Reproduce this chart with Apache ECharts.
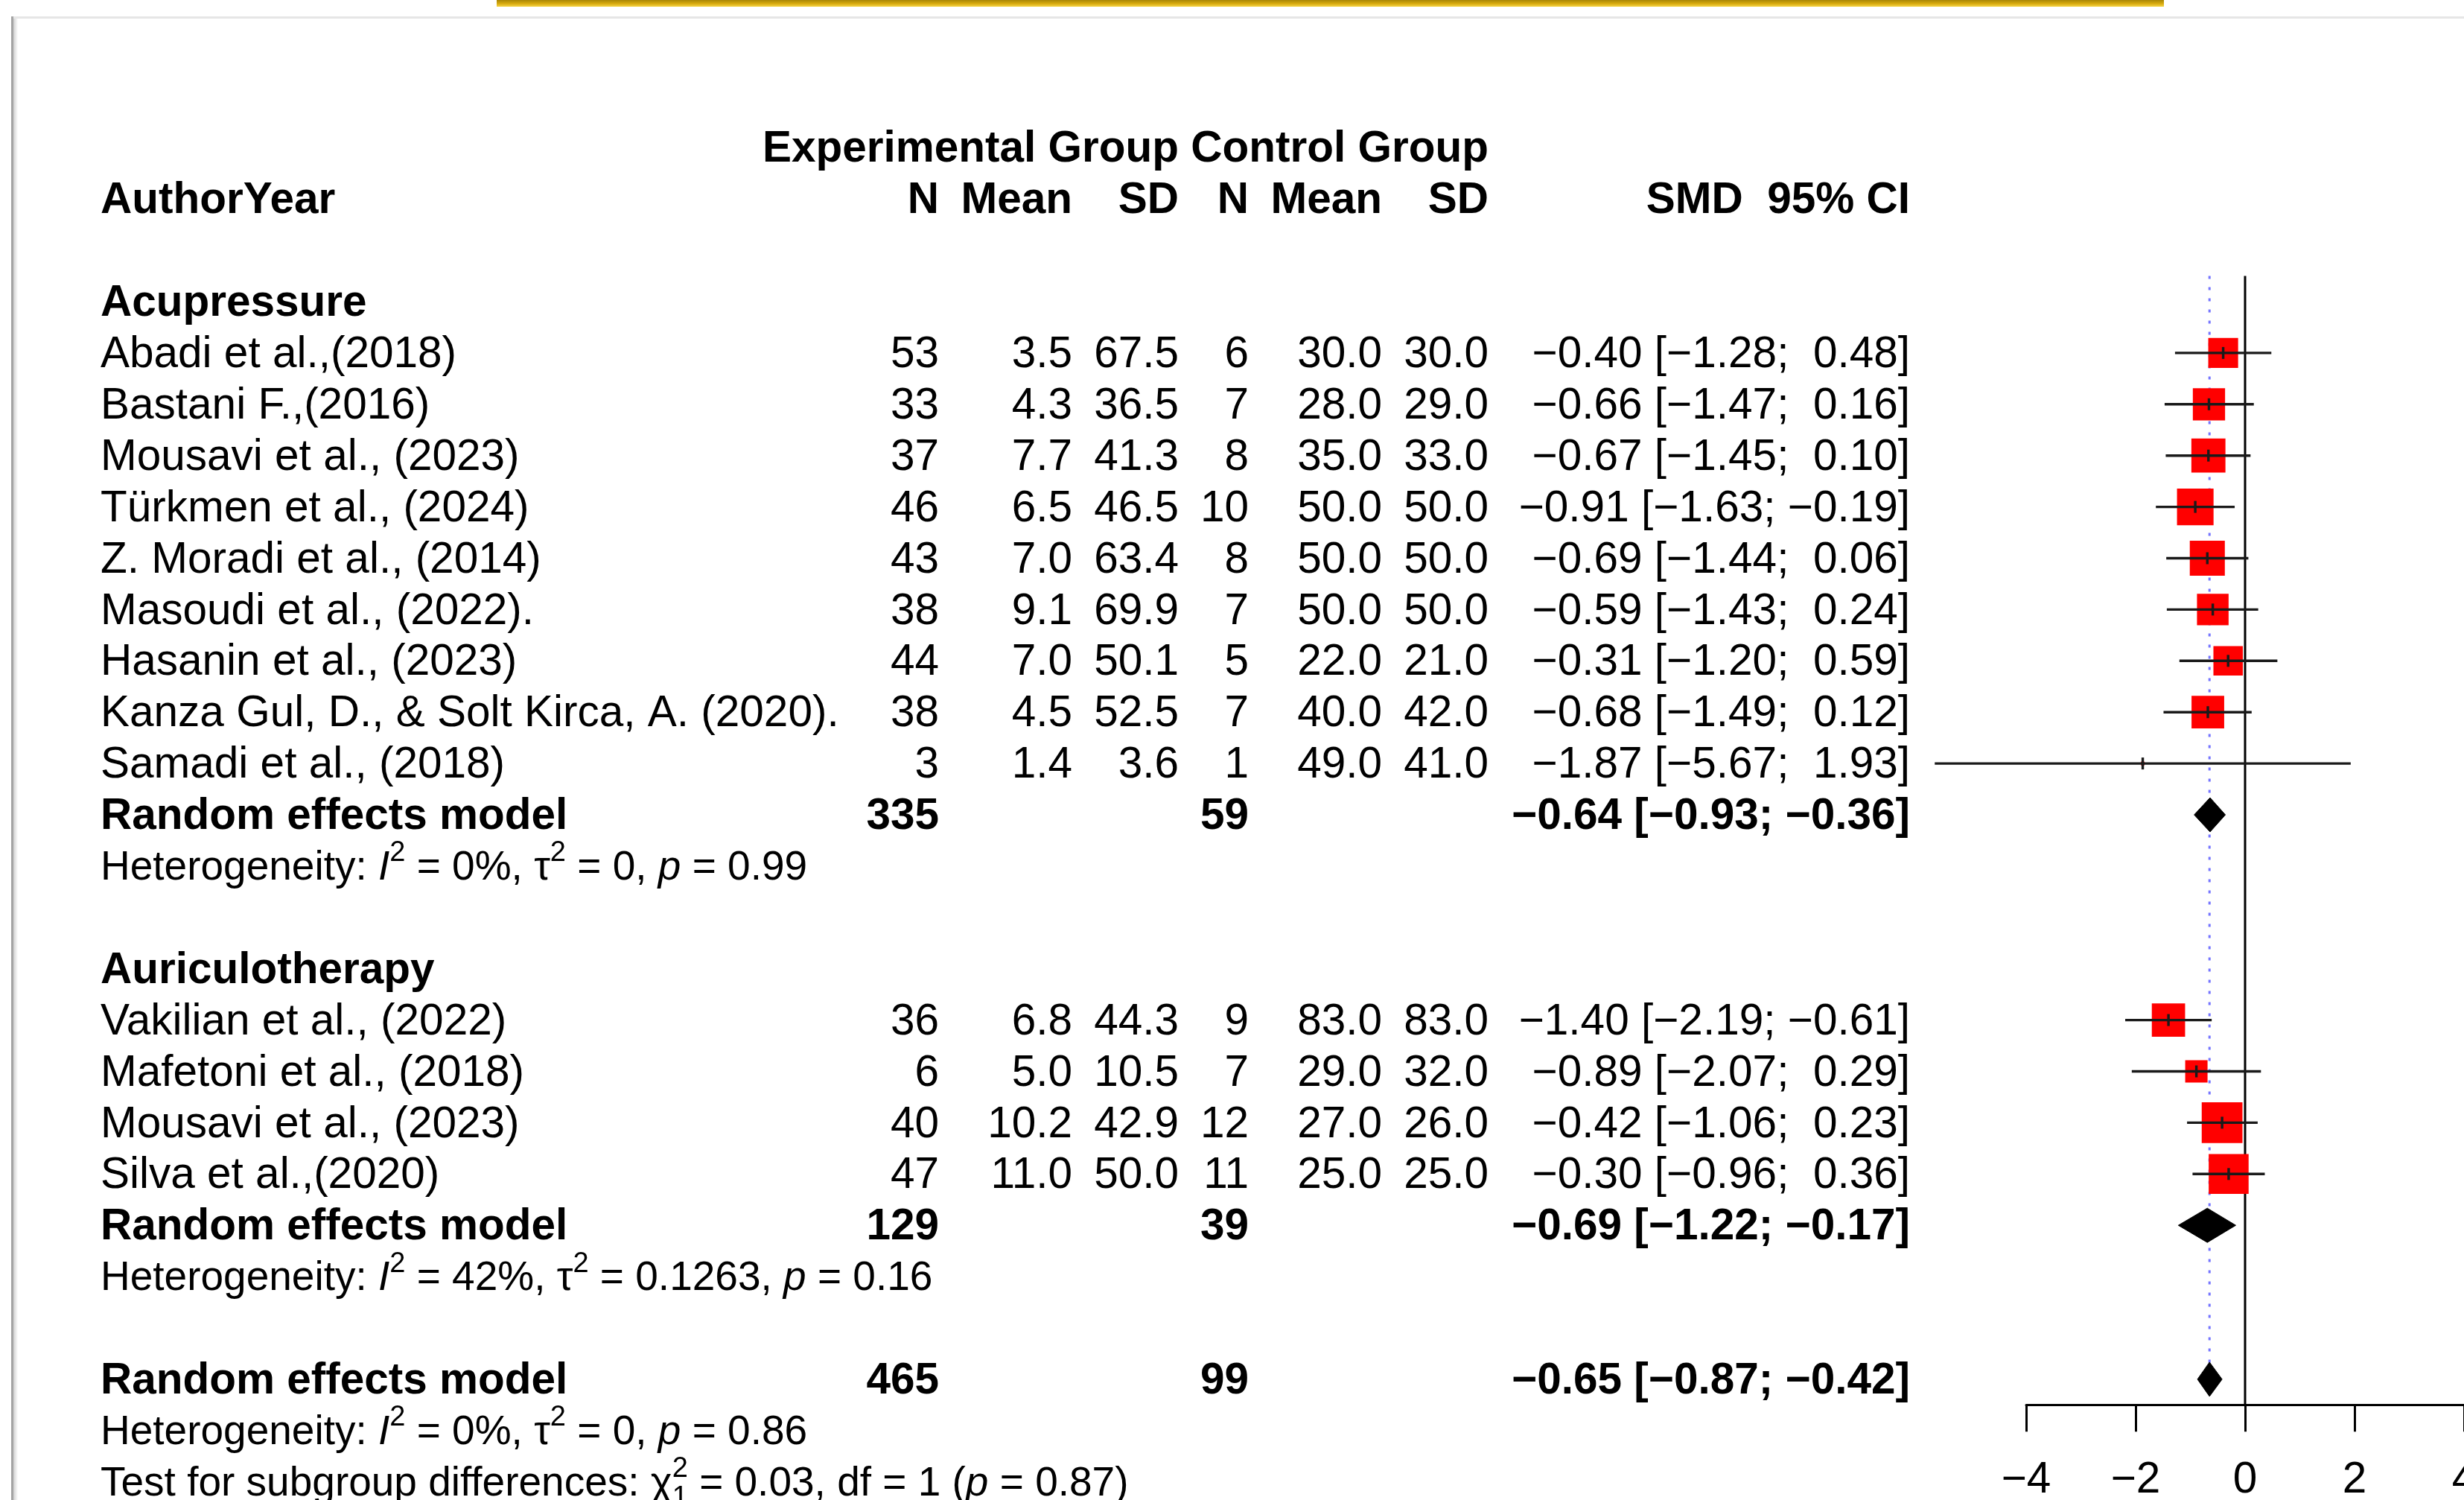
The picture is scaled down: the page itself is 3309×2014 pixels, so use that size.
<!DOCTYPE html>
<html><head><meta charset="utf-8">
<script src="https://cdn.jsdelivr.net/npm/echarts/dist/echarts.min.js"></script>
<style>html,body{margin:0;padding:0;background:#fff}#c{width:3309px;height:2014px}</style>
</head><body><div id="c"></div>
<script>
// ---------------- DATA ----------------
const groups = ["Acupressure", "Auriculotherapy"];
const studyNames = ["Abadi et al.,(2018)", "Bastani F.,(2016)", "Mousavi et al., (2023)", "Türkmen et al., (2024)",
  "Z. Moradi et al., (2014)", "Masoudi et al., (2022).", "Hasanin et al., (2023)",
  "Kanza Gul, D., & Solt Kirca, A. (2020).", "Samadi et al., (2018)",
  "Vakilian et al., (2022)", "Mafetoni et al., (2018)", "Mousavi et al., (2023)", "Silva et al.,(2020)"];
const studyGroup = [0,0,0,0,0,0,0,0,0,1,1,1,1];
const expN    = [53,33,37,46,43,38,44,38,3,36,6,40,47];
const expMean = [3.5,4.3,7.7,6.5,7.0,9.1,7.0,4.5,1.4,6.8,5.0,10.2,11.0];
const expSD   = [67.5,36.5,41.3,46.5,63.4,69.9,50.1,52.5,3.6,44.3,10.5,42.9,50.0];
const ctrlN    = [6,7,8,10,8,7,5,7,1,9,7,12,11];
const ctrlMean = [30.0,28.0,35.0,50.0,50.0,50.0,22.0,40.0,49.0,83.0,29.0,27.0,25.0];
const ctrlSD   = [30.0,29.0,33.0,50.0,50.0,50.0,21.0,42.0,41.0,83.0,32.0,26.0,25.0];
const smd    = [-0.40,-0.66,-0.67,-0.91,-0.69,-0.59,-0.31,-0.68,-1.87,-1.40,-0.89,-0.42,-0.30];
const ciLow  = [-1.28,-1.47,-1.45,-1.63,-1.44,-1.43,-1.20,-1.49,-5.67,-2.19,-2.07,-1.06,-0.96];
const ciHigh = [0.48,0.16,0.10,-0.19,0.06,0.24,0.59,0.12,1.93,-0.61,0.29,0.23,0.36];
const weights = [6.6,7.7,8.6,9.9,9.1,7.4,6.4,7.9,0.1,8.2,3.7,12.3,11.8]; // % (estimated from square sizes)

// summaries: [Acupressure, Auriculotherapy, Overall]
const sumLabel = ["Random effects model","Random effects model","Random effects model"];
const sumExpN  = [335,129,465];
const sumCtrlN = [59,39,99];
const sumSMD   = [-0.64,-0.69,-0.65];
const sumLow   = [-0.93,-1.22,-0.87];
const sumHigh  = [-0.36,-0.17,-0.42];
const hetI2    = ["0%","42%","0%"];
const hetTau2  = ["0","0.1263","0"];
const hetP     = ["0.99","0.16","0.86"];
const subgroupTest = {chi2:"0.03", df:"1", p:"0.87"};
const xTicks = [-4,-2,0,2,4];

// ---------------- LAYOUT / STYLE ----------------
const FAM = '"Liberation Sans", Arial, Helvetica, sans-serif';
const FS = 58.5, HFS = 55, SUPFS = 38, SUP_DY = -20, SUB_DY = 19, TEXT_DY = 3;
const ROW0_Y = 405, ROW_H = 68.9;
const COL = {label:135, eN:1261, eMean:1440, eSD:1583, cN:1677, cMean:1856, cSD:1999, smd:2565};
const SQ_K = 15.6, DIAMOND_H = 23, TICK_H = 8, LINE_W = 3.4;

// row assignment
let r = 0; const studyRow = [], groupRow = [], sumRow = [], hetRow = [];
groups.forEach((g, gi) => {
  groupRow.push(r++);
  studyGroup.forEach((sg, i) => { if (sg === gi) studyRow[i] = r++; });
  sumRow.push(r++); hetRow.push(r++); r++;
});
sumRow.push(r++); hetRow.push(r++); const testRow = r++;
const Y_MIN = -0.5, Y_MAX = sumRow[2] + 0.5;

const minus = '\u2212';
const f1 = v => v.toFixed(1);
const f2 = v => (v < 0 ? minus : '') + Math.abs(v).toFixed(2);
const f2p = v => (v < 0 ? minus : ' ') + Math.abs(v).toFixed(2);
const ciStr = (e, l, h) => f2(e) + ' [' + f2p(l) + '; ' + f2p(h) + ']';

// ---------------- TEXT CELLS ----------------
const cells = [];
const cell = (x, row, align, tokens) => cells.push({x, row, align, tokens});
const T = (t, k) => ({t, k: k || 'n'});

cell(COL.eSD, -3, 'right', [T('Experimental Group','b')]);
cell(COL.cSD, -3, 'right', [T('Control Group','b')]);
cell(COL.label, -2, 'left', [T('AuthorYear','b')]);
[['N',COL.eN],['Mean',COL.eMean],['SD',COL.eSD],['N',COL.cN],['Mean',COL.cMean],['SD',COL.cSD],['SMD  95% CI',COL.smd]]
  .forEach(([t,x]) => cell(x, -2, 'right', [T(t,'b')]));

groups.forEach((g, gi) => cell(COL.label, groupRow[gi], 'left', [T(g,'b')]));
studyNames.forEach((nm, i) => {
  const rr = studyRow[i];
  cell(COL.label, rr, 'left', [T(nm)]);
  cell(COL.eN, rr, 'right', [T(String(expN[i]))]);
  cell(COL.eMean, rr, 'right', [T(f1(expMean[i]))]);
  cell(COL.eSD, rr, 'right', [T(f1(expSD[i]))]);
  cell(COL.cN, rr, 'right', [T(String(ctrlN[i]))]);
  cell(COL.cMean, rr, 'right', [T(f1(ctrlMean[i]))]);
  cell(COL.cSD, rr, 'right', [T(f1(ctrlSD[i]))]);
  cell(COL.smd, rr, 'right', [T(ciStr(smd[i], ciLow[i], ciHigh[i]))]);
});
sumLabel.forEach((lb, k) => {
  const rr = sumRow[k];
  cell(COL.label, rr, 'left', [T(lb,'b')]);
  cell(COL.eN, rr, 'right', [T(String(sumExpN[k]),'b')]);
  cell(COL.cN, rr, 'right', [T(String(sumCtrlN[k]),'b')]);
  cell(COL.smd, rr, 'right', [T(ciStr(sumSMD[k], sumLow[k], sumHigh[k]),'b')]);
  cell(COL.label, hetRow[k], 'left', [T('Heterogeneity: ','h'), T('I','hi'), T('2','sup'), T(' = ' + hetI2[k] + ', \u03c4','h'),
    T('2','sup'), T(' = ' + hetTau2[k] + ', ','h'), T('p','hi'), T(' = ' + hetP[k],'h')]);
});
cell(COL.label, testRow, 'left', [T('Test for subgroup differences: \u03c7','h'), {k:'stack', sup:'2', sub:'1'},
  T(' = ' + subgroupTest.chi2 + ', df = ' + subgroupTest.df + ' (','h'), T('p','hi'), T(' = ' + subgroupTest.p + ')','h')]);

// ---------------- RENDER HELPERS ----------------
const mctx = document.createElement('canvas').getContext('2d');
function tw(text, font) { mctx.font = font; return mctx.measureText(text).width; }
function fontOf(k) {
  if (k === 'b') return 'bold ' + FS + 'px ' + FAM;
  if (k === 'i') return 'italic ' + FS + 'px ' + FAM;
  if (k === 'h') return HFS + 'px ' + FAM;
  if (k === 'hi') return 'italic ' + HFS + 'px ' + FAM;
  if (k === 'sup' || k === 'sub' || k === 'stack') return SUPFS + 'px ' + FAM;
  return FS + 'px ' + FAM;
}
function renderCell(c, px, py) {
  const parts = []; let w = 0;
  c.tokens.forEach(tok => {
    const f = fontOf(tok.k);
    if (tok.k === 'stack') {
      parts.push({text: tok.sup, font: f, dx: w, dy: SUP_DY});
      parts.push({text: tok.sub, font: f, dx: w, dy: SUB_DY});
      w += Math.max(tw(tok.sup, f), tw(tok.sub, f));
    } else {
      parts.push({text: tok.t, font: f, dx: w, dy: tok.k === 'sup' ? SUP_DY : 0});
      w += tw(tok.t, f);
    }
  });
  const x0 = c.align === 'right' ? px - w : px;
  return {type: 'group', children: parts.map(p => ({
    type: 'text', x: x0 + p.dx, y: py + p.dy + TEXT_DY,
    style: {text: p.text, font: p.font, fill: '#000', align: 'left', verticalAlign: 'middle',
            textAlign: 'left', textVerticalAlign: 'middle'}
  }))};
}

// ---------------- CHART ----------------
const chart = echarts.init(document.getElementById('c'), null, {renderer: 'canvas', width: 3309, height: 2014});
const GRID_TOP = ROW0_Y + Y_MIN * ROW_H, GRID_H = (Y_MAX - Y_MIN) * ROW_H;

const studyData = smd.map((v, i) => [v, studyRow[i], weights[i]]);
const ciData = smd.map((v, i) => [ciLow[i], ciHigh[i], v, studyRow[i]]);
const diamondData = sumSMD.map((v, k) => [sumLow[k], sumHigh[k], v, sumRow[k]]);
const refData = [[0, 0], [sumSMD[2], 1]];

const option = {
  animation: false,
  backgroundColor: '#fff',
  graphic: [
    {type: 'rect', shape: {x: 667, y: 0, width: 2239, height: 9}, style: {fill: {type: 'linear', x: 0, y: 0, x2: 0, y2: 1,
      colorStops: [{offset: 0, color: '#a88606'}, {offset: 0.5, color: '#d4a70c'}, {offset: 1, color: '#f6d444'}]}}},
    {type: 'rect', shape: {x: 15, y: 22, width: 3294, height: 3}, style: {fill: '#e6e6e6'}},
    {type: 'rect', shape: {x: 15, y: 22, width: 3, height: 1992}, style: {fill: '#a4a4a4'}},
    {type: 'rect', shape: {x: 18, y: 25, width: 6, height: 1989}, style: {fill: {type: 'linear', x: 0, y: 0, x2: 1, y2: 0,
      colorStops: [{offset: 0, color: '#cfcfcf'}, {offset: 1, color: '#ffffff'}]}}}
  ],
  grid: [
    {left: 2721, width: 588, top: GRID_TOP, height: GRID_H, outerBoundsMode: 'none', containLabel: false},
    {left: 0, width: 3309, top: GRID_TOP, height: GRID_H, outerBoundsMode: 'none', containLabel: false}
  ],
  xAxis: [
    {gridIndex: 0, type: 'value', min: xTicks[0], max: xTicks[xTicks.length - 1], interval: xTicks[1] - xTicks[0],
     position: 'bottom',
     axisLine: {show: true, onZero: false, lineStyle: {color: '#000', width: 3}},
     axisTick: {show: true, length: 36, lineStyle: {color: '#000', width: 3}},
     axisLabel: {show: true, fontSize: FS, fontFamily: FAM, color: '#000', margin: 72, showMinLabel: true, showMaxLabel: true,
       formatter: v => (v < 0 ? minus + Math.abs(v) : String(v))},
     splitLine: {show: false}},
    {gridIndex: 1, type: 'value', min: 0, max: 3309, show: false}
  ],
  yAxis: [
    {gridIndex: 0, type: 'value', min: Y_MIN, max: Y_MAX, inverse: true, show: false},
    {gridIndex: 1, type: 'value', min: Y_MIN, max: Y_MAX, inverse: true, show: false}
  ],
  series: [
    { // reference lines: null effect (solid) and overall estimate (dotted blue)
      type: 'custom', xAxisIndex: 0, yAxisIndex: 0, z: 1, silent: true, clip: false, data: refData,
      renderItem: (params, api) => {
        const x = api.value(0), kind = api.value(1);
        const p1 = api.coord([x, Y_MIN]), p2 = api.coord([x, Y_MAX]);
        return {type: 'line', shape: {x1: p1[0], y1: p1[1], x2: p2[0], y2: kind === 0 ? p2[1] : p2[1] - 14},
          style: kind === 0 ? {stroke: '#000', lineWidth: 3}
                            : {stroke: '#7474ff', lineWidth: 3, lineDash: [4, 11]}};
      }
    },
    {
      type: 'scatter', xAxisIndex: 0, yAxisIndex: 0, z: 2, silent: true, data: studyData,
      symbol: 'rect', symbolSize: v => SQ_K * Math.sqrt(v[2]),
      itemStyle: {color: '#ff0000', opacity: 1}
    },
    {
      type: 'custom', xAxisIndex: 0, yAxisIndex: 0, z: 3, silent: true, clip: false, data: ciData,
      renderItem: (params, api) => {
        const a = api.coord([api.value(0), api.value(3)]);
        const b = api.coord([api.value(1), api.value(3)]);
        const m = api.coord([api.value(2), api.value(3)]);
        return {type: 'group', children: [
          {type: 'line', shape: {x1: a[0], y1: a[1], x2: b[0], y2: b[1]}, style: {stroke: '#1a1a1a', lineWidth: LINE_W}},
          {type: 'line', shape: {x1: m[0], y1: m[1] - TICK_H, x2: m[0], y2: m[1] + TICK_H}, style: {stroke: '#1a1a1a', lineWidth: LINE_W}}
        ]};
      }
    },
    {
      type: 'custom', xAxisIndex: 0, yAxisIndex: 0, z: 3, silent: true, clip: false, data: diamondData,
      renderItem: (params, api) => {
        const l = api.coord([api.value(0), api.value(3)]);
        const h = api.coord([api.value(1), api.value(3)]);
        const e = api.coord([api.value(2), api.value(3)]);
        return {type: 'polygon', shape: {points: [[l[0], l[1]], [e[0], e[1] - DIAMOND_H], [h[0], h[1]], [e[0], e[1] + DIAMOND_H]]},
          style: {fill: '#000', stroke: '#000', lineWidth: 1}};
      }
    },
    {
      type: 'custom', xAxisIndex: 1, yAxisIndex: 1, z: 5, silent: true, clip: false,
      data: cells.map((c, i) => [c.x, c.row, i]),
      renderItem: (params, api) => {
        const c = cells[api.value(2)];
        const p = api.coord([api.value(0), api.value(1)]);
        return renderCell(c, p[0], p[1]);
      }
    }
  ]
};
chart.setOption(option);
</script>
</body></html>
